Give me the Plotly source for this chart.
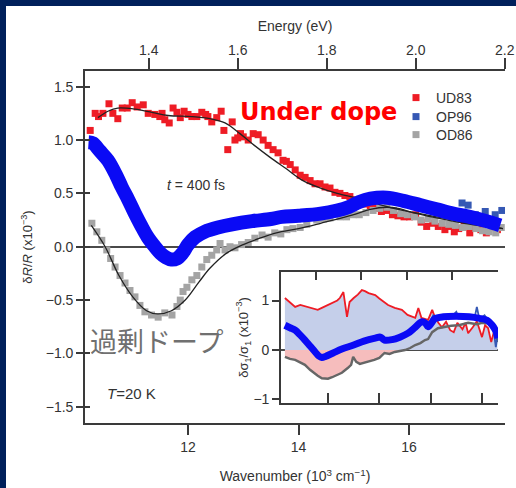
import plotly.graph_objects as go

# ---------------- main panel data (wavenumber in 10^3 cm^-1, dR/R in 1e-3) -------------
ud83_w = [10.23, 10.32, 10.38, 10.46, 10.57, 10.64, 10.73, 10.81, 10.90, 10.99, 11.08, 11.19,
          11.28, 11.40, 11.49, 11.53, 11.58, 11.66, 11.73, 11.80, 11.86, 11.93, 12.00, 12.07,
          12.16, 12.25, 12.32, 12.36, 12.43, 12.52, 12.60, 12.65, 12.72, 12.80, 12.85, 12.90,
          12.95, 13.00, 13.09, 13.18, 13.27, 13.36, 13.45, 13.54, 13.63, 13.72, 13.78, 13.85,
          13.94, 14.03, 14.12, 14.21, 14.30, 14.39, 14.48, 14.57, 14.66, 14.75, 14.84, 14.93,
          15.02, 15.12, 15.21, 15.30, 15.40, 15.50, 15.60, 15.70, 15.80, 15.91, 16.01, 16.12,
          16.22, 16.32, 16.43, 16.53, 16.65, 16.75, 16.82, 16.90, 17.00, 17.10, 17.20, 17.30,
          17.40, 17.50, 17.60]
ud83_v = [1.09, 1.25, 1.22, 1.25, 1.34, 1.25, 1.20, 1.30, 1.30, 1.35, 1.31, 1.33,
          1.25, 1.24, 1.22, 1.25, 1.19, 1.16, 1.30, 1.26, 1.21, 1.27, 1.24, 1.22,
          1.22, 1.26, 1.24, 1.22, 1.17, 1.21, 1.27, 1.09, 0.91, 1.17, 1.00, 1.02,
          1.06, 1.03, 1.00, 1.06, 1.05, 1.00, 0.95, 0.91, 0.88, 0.81, 0.80, 0.77,
          0.72, 0.67, 0.65, 0.62, 0.59, 0.59, 0.56, 0.55, 0.51, 0.50, 0.48, 0.47,
          0.44, 0.43, 0.40, 0.38, 0.36, 0.33, 0.34, 0.30, 0.29, 0.28, 0.28, 0.30,
          0.23, 0.19, 0.22, 0.19, 0.16, 0.19, 0.14, 0.17, 0.21, 0.13, 0.19, 0.16,
          0.13, 0.18, 0.16]

ud83_fit_w = [10.37, 10.55, 10.73, 11.04, 11.35, 11.64, 12.07, 12.40, 12.67, 12.94, 13.20,
              13.48, 13.78, 14.08, 14.40, 14.70, 15.10, 15.50, 15.80, 16.20, 16.60, 17.00,
              17.40, 17.70]
ud83_fit_v = [1.21, 1.27, 1.30, 1.29, 1.26, 1.23, 1.22, 1.20, 1.16, 1.06, 0.95,
              0.84, 0.73, 0.62, 0.55, 0.50, 0.45, 0.39, 0.35, 0.31, 0.27, 0.23,
              0.20, 0.17]

od86_w = [10.26, 10.35, 10.44, 10.53, 10.60, 10.68, 10.77, 10.86, 10.95, 11.04, 11.13, 11.22,
          11.34, 11.46, 11.58, 11.71, 11.80, 11.86, 11.91, 11.98, 12.07, 12.16, 12.25, 12.34,
          12.43, 12.52, 12.58, 12.67, 12.76, 12.85, 12.97, 13.09, 13.21, 13.34, 13.45, 13.57,
          13.68, 13.79, 13.90, 14.03, 14.15, 14.33, 14.45, 14.57, 14.75, 14.87, 14.99, 15.10,
          15.22, 15.35, 15.47, 15.60, 15.72, 15.85, 15.97, 16.10, 16.22, 16.35, 16.47, 16.60,
          16.72, 16.84, 16.97, 17.09, 17.21, 17.33, 17.45, 17.57, 17.67]
od86_v = [0.22, 0.14, 0.06, -0.03, -0.11, -0.19, -0.27, -0.34, -0.41, -0.47, -0.55, -0.61,
          -0.64, -0.66, -0.62, -0.64, -0.56, -0.50, -0.42, -0.38, -0.31, -0.27, -0.19, -0.12,
          -0.08, -0.03, 0.03, -0.03, 0.00, -0.01, 0.02, 0.04, 0.08, 0.11, 0.09, 0.13,
          0.12, 0.16, 0.17, 0.18, 0.21, 0.25, 0.26, 0.27, 0.28, 0.28, 0.30, 0.30,
          0.32, 0.34, 0.36, 0.37, 0.34, 0.31, 0.30, 0.28, 0.25, 0.26, 0.24, 0.22,
          0.21, 0.20, 0.18, 0.19, 0.17, 0.15, 0.14, 0.13, 0.18]

od86_fit_w = [10.25, 10.50, 10.75, 11.00, 11.25, 11.45, 11.70, 11.95, 12.20, 12.40, 12.70,
              13.00, 13.30, 13.60, 14.00, 14.40, 15.00, 15.30, 15.60, 15.80, 16.00, 16.50,
              17.00, 17.40, 17.70]
od86_fit_v = [0.20, 0.00, -0.27, -0.47, -0.60, -0.63, -0.60, -0.50, -0.33, -0.20, -0.06,
              0.02, 0.08, 0.13, 0.17, 0.22, 0.30, 0.35, 0.37, 0.36, 0.33, 0.27,
              0.22, 0.19, 0.17]

op96_w = [10.30, 10.50, 10.70, 10.90, 11.10, 11.30, 11.50, 11.70, 11.90, 12.10, 12.30, 12.50,
          12.70, 12.90, 13.10, 13.30, 13.50, 13.70, 13.90, 14.10, 14.30, 14.50, 14.70, 14.90,
          15.10, 15.30, 15.50, 15.70, 15.90, 16.10, 16.30, 16.50, 16.70, 16.96, 17.07, 17.20,
          17.38, 17.56, 17.68]
op96_v = [0.95, 0.84, 0.66, 0.46, 0.25, 0.07, -0.05, -0.12, -0.07, 0.08, 0.14, 0.17,
          0.20, 0.22, 0.23, 0.25, 0.27, 0.27, 0.29, 0.30, 0.30, 0.32, 0.34, 0.37,
          0.41, 0.45, 0.47, 0.46, 0.44, 0.41, 0.38, 0.36, 0.34, 0.41, 0.39, 0.30,
          0.33, 0.30, 0.34]

op96_smooth_w = [10.20, 10.28, 10.40, 10.55, 10.70, 10.80, 10.92, 11.04, 11.15, 11.27, 11.40,
                 11.50, 11.60, 11.70, 11.80, 11.90, 12.00, 12.13, 12.30, 12.54, 12.80, 13.16,
                 13.50, 13.70, 14.00, 14.40, 14.70, 14.90, 15.10, 15.30, 15.60, 15.90, 16.20,
                 16.50, 16.80, 17.10, 17.40, 17.65]
op96_smooth_v = [0.98, 0.97, 0.90, 0.81, 0.67, 0.56, 0.44, 0.31, 0.20, 0.09, 0.00,
                 -0.06, -0.10, -0.12, -0.11, -0.06, 0.02, 0.09, 0.14, 0.18, 0.21, 0.24,
                 0.26, 0.28, 0.29, 0.31, 0.34, 0.37, 0.42, 0.45, 0.46, 0.43, 0.39,
                 0.35, 0.31, 0.28, 0.24, 0.20]

# energy conversion (eV per 10^3 cm^-1) for the top axis
EV_PER_KCM = 0.12398

# ---------------- inset data (d sigma1 / sigma1, 1e-3) -------------
ins_ud83_w = [13.16, 13.26, 13.36, 13.46, 13.56, 13.66, 13.80, 13.90, 14.00, 14.10, 14.18, 14.23,
              14.30, 14.37, 14.42, 14.50, 14.58, 14.66, 14.72, 14.79, 14.86, 14.92, 15.00, 15.06,
              15.17, 15.30, 15.44, 15.55, 15.62, 15.70, 15.76, 15.82, 15.95, 16.03, 16.08, 16.15,
              16.22, 16.30, 16.38, 16.45, 16.52, 16.62, 16.68, 16.73, 16.82, 16.90, 17.00, 17.06,
              17.12, 17.18, 17.24, 17.30]
ins_ud83_v = [1.05, 0.95, 0.87, 0.91, 0.88, 0.84, 0.81, 0.86, 0.91, 0.97, 1.00, 1.05,
              1.17, 0.67, 0.97, 1.05, 1.12, 1.21, 1.19, 1.15, 1.12, 1.11, 1.04, 1.00,
              0.91, 0.85, 0.81, 0.71, 0.68, 0.65, 0.85, 0.65, 0.61, 0.81, 0.67, 0.55,
              0.46, 0.57, 0.40, 0.36, 0.55, 0.42, 0.55, 0.34, 0.46, 0.58, 0.26, 0.50,
              0.44, 0.16, 0.40, 0.26]

ins_od86_w = [13.16, 13.26, 13.36, 13.46, 13.55, 13.65, 13.72, 13.80, 13.88, 14.00, 14.08, 14.18,
              14.27, 14.39, 14.45, 14.49, 14.55, 14.62, 14.70, 14.78, 14.90, 15.00, 15.10, 15.20,
              15.30, 15.40, 15.50, 15.60, 15.70, 15.80, 15.89, 15.95, 16.03, 16.14, 16.25, 16.40,
              16.55, 16.73, 16.90, 17.00, 17.10, 17.20, 17.26, 17.30]
ins_od86_v = [-0.14, -0.18, -0.20, -0.25, -0.30, -0.40, -0.46, -0.52, -0.57, -0.58, -0.55, -0.50,
              -0.46, -0.36, -0.30, -0.14, -0.24, -0.28, -0.26, -0.24, -0.20, -0.16, -0.06, -0.08,
              -0.04, -0.02, 0.00, 0.04, 0.10, 0.14, 0.20, 0.22, 0.36, 0.44, 0.46, 0.49,
              0.50, 0.55, 0.52, 0.55, 0.54, 0.50, 0.40, 0.16]
ins_od86_neg = [min(v, 0.0) for v in ins_od86_v]

ins_op96_w = [13.16, 13.26, 13.36, 13.46, 13.55, 13.65, 13.75, 13.82, 13.88, 13.95, 14.10, 14.27,
              14.50, 14.70, 14.92, 15.02, 15.10, 15.25, 15.40, 15.56, 15.70, 15.83, 15.90, 15.95,
              16.02, 16.08, 16.25, 16.50, 16.75, 16.95, 17.10, 17.20, 17.27, 17.31]
ins_op96_v = [0.50, 0.45, 0.40, 0.30, 0.20, 0.08, -0.04, -0.12, -0.15, -0.13, -0.06, 0.02,
              0.10, 0.18, 0.24, 0.26, 0.20, 0.21, 0.26, 0.34, 0.46, 0.57, 0.54, 0.47,
              0.55, 0.63, 0.67, 0.68, 0.67, 0.64, 0.60, 0.50, 0.38, 0.24]

ins_op96_raw_w = [15.85, 15.95, 16.05, 16.15, 16.25, 16.35, 16.45, 16.50, 16.55, 16.65, 16.75,
                  16.85, 16.90, 16.95, 17.05, 17.15, 17.22, 17.27, 17.30]
ins_op96_raw_v = [0.60, 0.50, 0.70, 0.62, 0.66, 0.62, 0.72, 0.77, 0.64, 0.70, 0.66,
                  0.62, 0.87, 0.62, 0.70, 0.56, 0.45, 0.06, 0.28]

# tick values
main_y_ticks = [-1.5, -1.0, -0.5, 0.0, 0.5, 1.0, 1.5]
main_x_ticks = [12, 14, 16]
energy_ticks = [1.4, 1.6, 1.8, 2.0, 2.2]
inset_x_ticks = [14, 15, 16, 17]
inset_top_ticks = [13.77, 14.64, 15.54, 16.42, 17.31]
inset_y_ticks = [-1, 0, 1]

# ---------------- styling ----------------
RED = "#EE1C25"
GREY = "#A4A4A4"
BLUE_PTS = "#3558B4"
BLUE = "#0A0AF5"
AX = "#3a3a3a"
TXT = "#333333"
FONT = "Liberation Sans, Arial, sans-serif"

W, H = 516, 488
L, R, T, B = 85, 11, 71, 65
PW, PH = W - L - R, H - T - B


def px(xpix):
    return (xpix - L) / PW


def py(ypix):
    return (H - B - ypix) / PH


fig = go.Figure()

# main panel
fig.add_trace(go.Scatter(x=ud83_w, y=ud83_v, mode="markers", name="UD83", legend="legend",
                         marker=dict(symbol="square", size=7, color=RED, line=dict(width=0))))
fig.add_trace(go.Scatter(x=od86_w, y=od86_v, mode="markers", name="OD86", legend="legend3",
                         marker=dict(symbol="square", size=7, color=GREY, line=dict(width=0))))
fig.add_trace(go.Scatter(x=op96_w, y=op96_v, mode="markers", name="OP96", legend="legend2",
                         marker=dict(symbol="square", size=7, color=BLUE_PTS, line=dict(width=0))))
fig.add_trace(go.Scatter(x=ud83_fit_w, y=ud83_fit_v, mode="lines", showlegend=False,
                         line=dict(color="#222222", width=1.3, shape="spline")))
fig.add_trace(go.Scatter(x=od86_fit_w, y=od86_fit_v, mode="lines", showlegend=False,
                         line=dict(color="#222222", width=1.3, shape="spline")))
fig.add_trace(go.Scatter(x=op96_smooth_w, y=op96_smooth_v, mode="lines", showlegend=False,
                         line=dict(color=BLUE, width=14, shape="spline")))

# invisible companions so the overlaid axes (energy scale, cross ticks) are drawn
fig.add_trace(go.Scatter(x=[w * EV_PER_KCM for w in ud83_w], y=ud83_v, mode="markers",
                         xaxis="x2", yaxis="y", showlegend=False, hoverinfo="skip",
                         marker=dict(opacity=0, size=1)))
fig.add_trace(go.Scatter(x=ud83_w, y=ud83_v, mode="markers", xaxis="x", yaxis="y2",
                         showlegend=False, hoverinfo="skip", marker=dict(opacity=0, size=1)))

# inset
fig.add_trace(go.Scatter(x=ins_ud83_w, y=ins_ud83_v, mode="lines", showlegend=False,
                         xaxis="x3", yaxis="y3", fill="tozeroy", fillcolor="#C5CFEA",
                         line=dict(color=RED, width=1.8)))
fig.add_trace(go.Scatter(x=ins_od86_w, y=ins_od86_neg, mode="lines", showlegend=False,
                         xaxis="x3", yaxis="y3", fill="tozeroy", fillcolor="#F6BDBD",
                         line=dict(width=0)))
fig.add_trace(go.Scatter(x=ins_od86_w, y=ins_od86_v, mode="lines", showlegend=False,
                         xaxis="x3", yaxis="y3", line=dict(color="#666666", width=2.4)))
fig.add_trace(go.Scatter(x=ins_op96_raw_w, y=ins_op96_raw_v, mode="lines", showlegend=False,
                         xaxis="x3", yaxis="y3", line=dict(color=BLUE_PTS, width=1.8)))
fig.add_trace(go.Scatter(x=ins_op96_w, y=ins_op96_v, mode="lines", showlegend=False,
                         xaxis="x3", yaxis="y3", line=dict(color=BLUE, width=7, shape="spline")))
fig.add_trace(go.Scatter(x=ins_op96_w, y=ins_op96_v, mode="markers", showlegend=False,
                         xaxis="x4", yaxis="y3", hoverinfo="skip",
                         marker=dict(opacity=0, size=1)))

tickfont = dict(family=FONT, size=14, color=TXT)
legfont = dict(family=FONT, size=14, color=TXT)


def leg(top_pix):
    return dict(x=px(396), y=py(top_pix), xanchor="left", yanchor="top",
                bgcolor="rgba(0,0,0,0)", borderwidth=0, itemwidth=30, font=legfont)


fig.update_layout(
    width=W, height=H,
    margin=dict(l=L, r=R, t=T, b=B, autoexpand=False),
    paper_bgcolor="#00205B",
    plot_bgcolor="white",
    font=dict(family=FONT, size=14, color=TXT),
    showlegend=True,
    legend=leg(82),
    legend2=leg(101),
    legend3=leg(119),
    xaxis=dict(range=[10.1357, 17.7376], tickvals=main_x_ticks, ticks="outside", ticklen=10,
               tickwidth=1.5, tickcolor=AX, showline=True, linecolor=AX, linewidth=1.6,
               showgrid=False, zeroline=False, tickfont=tickfont,
               title=dict(text="Wavenumber (10<sup>3</sup> cm<sup>−1</sup>)",
                          font=dict(family=FONT, size=14, color=TXT), standoff=18)),
    xaxis2=dict(range=[1.2566, 2.2005], overlaying="x", anchor="y", side="top",
                tickvals=energy_ticks, tickformat=".1f", ticks="outside",
                ticklen=11, tickwidth=1.5, tickcolor=AX, showline=True, linecolor=AX,
                linewidth=1.6, showgrid=False, zeroline=False, tickfont=tickfont,
                ticklabelstandoff=-2,
                title=dict(text="Energy (eV)", font=dict(family=FONT, size=14, color=TXT),
                           standoff=7)),
    yaxis=dict(range=[-1.652, 1.647], tickvals=main_y_ticks,
               tickformat=".1f", ticks="outside", ticklen=7, tickwidth=1.5, tickcolor=AX,
               showline=True, linecolor=AX, linewidth=1.6, showgrid=False,
               zeroline=True, zerolinecolor="#4a4a4a", zerolinewidth=1.6, tickfont=tickfont,
               title=dict(text="δ<i>R</i>/<i>R</i> (x10<sup>−3</sup>)",
                          font=dict(family=FONT, size=13, color=TXT), standoff=10)),
    yaxis2=dict(range=[-1.652, 1.647], overlaying="y", anchor="x", side="left",
                tickvals=main_y_ticks, ticks="inside", ticklen=5,
                tickwidth=1.5, tickcolor=AX, showticklabels=False, showline=False,
                showgrid=False, zeroline=False),
    xaxis3=dict(domain=[px(281), px(498)], anchor="y3", range=[13.084, 17.312],
                tickvals=inset_x_ticks, ticks="inside", ticklen=10, tickwidth=1.5,
                tickcolor=AX, showticklabels=False, showline=True, linecolor=AX,
                linewidth=1.6, showgrid=False, zeroline=False),
    xaxis4=dict(overlaying="x3", anchor="y3", side="top", range=[13.084, 17.312],
                tickvals=inset_top_ticks, ticks="inside", ticklen=8, tickwidth=1.5,
                tickcolor=AX, showticklabels=False, showline=True, linecolor=AX,
                linewidth=1.6, showgrid=False, zeroline=False),
    yaxis3=dict(domain=[py(403), py(272)], anchor="x3", range=[-1.071, 1.576],
                tickvals=inset_y_ticks, ticks="outside", ticklen=7, tickwidth=1.5,
                tickcolor=AX, showline=True, linecolor=AX, linewidth=1.6, showgrid=False,
                zeroline=True, zerolinecolor="#4a4a4a", zerolinewidth=1.6, tickfont=tickfont,
                title=dict(text="δσ<sub>1</sub>/σ<sub>1</sub> (x10<sup>−3</sup>)",
                           font=dict(family=FONT, size=13, color=TXT), standoff=2)),
    shapes=[dict(type="rect", xref="paper", yref="paper", x0=px(6), x1=px(W), y0=py(H),
                 y1=py(6), fillcolor="white", line=dict(width=0), layer="below")],
    annotations=[
        dict(text="Under dope", xref="paper", yref="paper", x=px(238), y=py(112),
             xanchor="left", yanchor="middle", showarrow=False,
             font=dict(family="DejaVu Sans", size=24, color="#FF0000", weight="bold")),
        dict(text="過剰ドープ", xref="paper", yref="paper", x=px(88), y=py(340),
             xanchor="left", yanchor="middle", showarrow=False,
             font=dict(family="Noto Sans CJK JP", size=27, color="#707070")),
        dict(text="<i>t</i> = 400 fs", xref="paper", yref="paper", x=px(165), y=py(185),
             xanchor="left", yanchor="middle", showarrow=False,
             font=dict(family=FONT, size=14, color=TXT)),
        dict(text="<i>T</i>=20 K", xref="paper", yref="paper", x=px(105), y=py(393),
             xanchor="left", yanchor="middle", showarrow=False,
             font=dict(family=FONT, size=15, color=TXT)),
    ],
)

fig.write_html("out.html")
